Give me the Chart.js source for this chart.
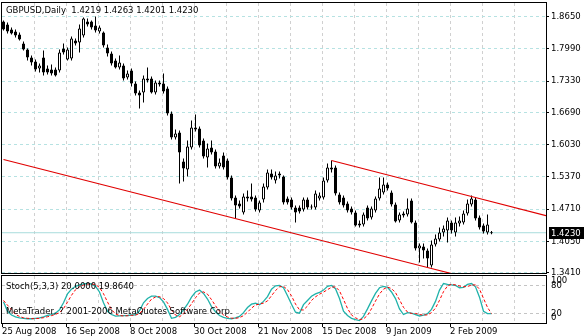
<!DOCTYPE html>
<html>
<head>
<meta charset="utf-8">
<script src="https://cdn.jsdelivr.net/npm/chart.js@4.4.1/dist/chart.umd.min.js"></script>
<style>
  html, body { margin: 0; padding: 0; background: #fff; }
  #wrap { position: relative; width: 584px; height: 336px; overflow: hidden; background: #fff; }
  #main { position: absolute; left: 0; top: 0; }
  #osc { position: absolute; left: 0; top: 275px; }
</style>
</head>
<body>
<div id="wrap">
  <canvas id="main" width="584" height="275"></canvas>
  <canvas id="osc" width="584" height="61"></canvas>
</div>
<script>
// ---- GBPUSD daily bars, 25 Aug 2008 onwards ----
const symbol = 'GBPUSD';
const timeframe = 'Daily';

const opens = [
  1.8548,1.8486,1.8384,1.8343,1.8282,1.8098,1.7975,1.7812,1.7730,1.7587,
  1.7812,1.7587,1.7567,1.7567,1.7546,1.7996,1.7771,1.7792,1.8159,1.8119,
  1.8262,1.8548,1.8548,1.8466,1.8343,1.8323,1.8016,1.7894,1.7751,1.7608,
  1.7649,1.7403,1.7546,1.7281,1.7097,1.7097,1.7342,1.7383,1.7097,1.7301,
  1.7281,1.7179,1.6667,1.6177,1.6279,1.5686,1.5523,1.5972,1.6381,1.6361,
  1.6115,1.5768,1.5972,1.5891,1.5584,1.5809,1.5707,1.5359,1.4950,1.4828,
  1.4644,1.4930,1.4971,1.4950,1.4685,1.4909,1.5155,1.5441,1.5298,1.5400,
  1.5380,1.4930,1.4909,1.4746,1.4746,1.4705,1.4909,1.4766,1.4746,1.4930,
  1.4950,1.5298,1.5563,1.5563,1.5012,1.4950,1.4828,1.4725,1.4644,1.4419,
  1.4399,1.4746,1.4542,1.4685,1.4930,1.5053,1.5216,1.5053,1.4807,1.4480,
  1.4623,1.4603,1.4889,1.4439,1.3908,1.3949,1.3867,1.3561,1.3990,1.4092,
  1.4235,1.4276,1.4439,1.4235,1.4419,1.4439,1.4623,1.4807,1.4909,1.4542,
  1.4378,1.4235,1.4219
];
const highs = [
  1.8568,1.8527,1.8425,1.8384,1.8323,1.8139,1.7996,1.7853,1.7771,1.7689,
  1.7955,1.7649,1.7669,1.7608,1.7975,1.8098,1.8016,1.8241,1.8200,1.8486,
  1.8630,1.8609,1.8568,1.8650,1.8466,1.8343,1.8078,1.7935,1.7792,1.7853,
  1.7689,1.7546,1.7587,1.7322,1.7138,1.7444,1.7608,1.7424,1.7342,1.7342,
  1.7485,1.7219,1.6708,1.6340,1.6320,1.5747,1.6115,1.6524,1.6647,1.6401,
  1.6156,1.6054,1.6115,1.5931,1.5747,1.5870,1.5747,1.5400,1.4991,1.4889,
  1.5032,1.5093,1.5237,1.4991,1.4889,1.5237,1.5523,1.5523,1.5482,1.5482,
  1.5400,1.4971,1.4950,1.4787,1.4787,1.4950,1.4950,1.4807,1.5093,1.5053,
  1.5359,1.5645,1.5707,1.5604,1.5053,1.4991,1.4869,1.4766,1.4685,1.4480,
  1.4644,1.4787,1.4766,1.4971,1.5359,1.5359,1.5257,1.5093,1.4848,1.4644,
  1.4664,1.4930,1.4930,1.4480,1.4010,1.4010,1.3908,1.4071,1.4194,1.4337,
  1.4378,1.4542,1.4480,1.4542,1.4562,1.4685,1.4909,1.4991,1.4950,1.4582,
  1.4419,1.4603,1.4263
];
const lows = [
  1.8364,1.8302,1.8282,1.8221,1.8159,1.7955,1.7751,1.7649,1.7526,1.7506,
  1.7444,1.7465,1.7444,1.7424,1.7506,1.7873,1.7751,1.7751,1.8057,1.7914,
  1.8221,1.8446,1.8384,1.8323,1.8302,1.8016,1.7832,1.7649,1.7587,1.7567,
  1.7342,1.7362,1.7219,1.7036,1.6770,1.6892,1.7301,1.7076,1.7056,1.7219,
  1.7076,1.6626,1.6136,1.6136,1.5237,1.5277,1.5380,1.5931,1.6299,1.5972,
  1.5747,1.5563,1.5829,1.5543,1.5543,1.5523,1.5318,1.4889,1.4521,1.4725,
  1.4603,1.4869,1.4869,1.4664,1.4644,1.4848,1.5114,1.5318,1.5237,1.5339,
  1.4807,1.4807,1.4705,1.4439,1.4623,1.4664,1.4705,1.4705,1.4705,1.4889,
  1.4909,1.5257,1.5461,1.4991,1.4807,1.4746,1.4644,1.4603,1.4358,1.4337,
  1.4358,1.4480,1.4501,1.4644,1.4889,1.5012,1.5093,1.4766,1.4439,1.4439,
  1.4542,1.4562,1.4419,1.3867,1.3622,1.3704,1.3520,1.3520,1.3949,1.4051,
  1.4153,1.4031,1.4214,1.4153,1.4358,1.4399,1.4582,1.4766,1.4480,1.4296,
  1.4214,1.4194,1.4201
];
const closes = [
  1.8384,1.8343,1.8302,1.8262,1.8180,1.7975,1.7812,1.7710,1.7567,1.7649,
  1.7506,1.7506,1.7485,1.7444,1.7914,1.7914,1.7975,1.8200,1.8098,1.8405,
  1.8609,1.8486,1.8425,1.8364,1.8425,1.8057,1.7894,1.7689,1.7608,1.7710,
  1.7383,1.7485,1.7281,1.7076,1.7036,1.7383,1.7383,1.7097,1.7301,1.7260,
  1.7117,1.6667,1.6177,1.6258,1.5870,1.5543,1.5993,1.6381,1.6340,1.6013,
  1.5788,1.5952,1.5870,1.5584,1.5666,1.5563,1.5359,1.4930,1.4787,1.4766,
  1.4971,1.4971,1.4909,1.4705,1.4848,1.5175,1.5461,1.5359,1.5400,1.5441,
  1.4848,1.4848,1.4746,1.4644,1.4664,1.4909,1.4746,1.4746,1.5032,1.4991,
  1.5298,1.5563,1.5523,1.5032,1.4848,1.4787,1.4685,1.4644,1.4378,1.4378,
  1.4603,1.4521,1.4725,1.4930,1.5134,1.5216,1.5134,1.4807,1.4460,1.4603,
  1.4582,1.4725,1.4439,1.3908,1.3969,1.3867,1.3704,1.3990,1.4112,1.4235,
  1.4317,1.4480,1.4276,1.4439,1.4480,1.4623,1.4828,1.4930,1.4521,1.4337,
  1.4255,1.4399,1.4230
];

// Stochastic(5,3,3): main line and signal line
const stochK = [
  45,25,17,13,11,10,9,9,10,11,
  13,16,18,21,28,43,62,72,78,81,
  83,84,83,78,66,43,25,18,14.5,15,
  15.5,16,17,17.5,26,43,52,57,57,54,
  45,29,10,12,18,28,40,55,66,70,
  63,51,35,24,16,12,10,9,11,14,
  22,33,40,42,39,46,56,72,79,80,
  75,58,40,23,21,39,48,57,62,65,
  70,78,80,73,52,25,16,10,7,5,
  14,30,47,63,75,78,76,66,52,30,
  18,22,21,18,15,17,20,29,46,70,
  84,82,81,80,75,76,82,84,77,55,
  25,20,20
];
const stochD = [
  48,38,29,18,14,11,10,9.3,9.3,10,
  11.3,13.3,15.7,18.3,22.3,30.7,44.3,59,70.7,77,
  80.7,82.7,83.3,81.7,75.7,62.3,44.7,28.7,19.2,15.8,
  15,15.5,16.2,16.8,20.2,28.8,40.3,50.7,55.3,56,
  52,42.7,28,17,13.3,19.3,28.7,41,53.7,63.7,
  66.3,61.3,49.7,36.7,25,17.3,12.7,10.3,10,11.3,
  15.7,23,31.7,38.3,40.3,42.3,47,58,69,77,
  78,71,57.7,40.3,28,27.7,36,48,55.7,61.3,
  65.7,71,76,77,68.3,50,31,17,11,7.3,
  8.7,16.3,30.3,46.7,61.7,72,76.3,73.3,64.7,49.3,
  33.3,23.3,20.3,20.3,18,16.7,17.3,22,31.7,48.3,
  66.7,78.7,82.3,81,78.7,77,77.7,80.7,81,72,
  52.3,33.3,19.864
];

// Price axis labels and oscillator levels
const priceTicks = [1.3410, 1.4050, 1.4710, 1.5370, 1.6030, 1.6690, 1.7330, 1.7990, 1.8650];
const stochLevels = [0, 20, 80, 100];
const stochGridLevels = [20, 80];

// Date labels, one every 16 bars
const dateLabels = ['25 Aug 2008', '16 Sep 2008', '8 Oct 2008', '30 Oct 2008',
                    '21 Nov 2008', '15 Dec 2008', '9 Jan 2009', '2 Feb 2009'];

// Trend channel anchors (bar index, price); both lines extend to the right
const lowerLineBars = [0, 106];
const lowerLinePrices = [1.5727, 1.3520];
const upperLineBars = [82, 117];
const upperLinePrices = [1.5707, 1.4970];

// ---- layout ----
const FONT = '"DejaVu Sans", Verdana, sans-serif';
const FSIZE = 8.5;
const xMin = -0.375, xMax = 135.625;     // 4 px per bar
const yMin = 1.3407, yMax = 1.8926;
const BARS_PER_GRID = 8;
const gridValues = [];
for (let v = xMin; v < xMax - 1; v += BARS_PER_GRID) gridValues.push(v);

const N = closes.length;
const last = N - 1;
const lastClose = closes[last];

function ray(bars, prices) {
  const slope = (prices[1] - prices[0]) / (bars[1] - bars[0]);
  return [
    { x: bars[0], y: prices[0] },
    { x: bars[1], y: prices[1] },
    { x: xMax, y: prices[0] + slope * (xMax - bars[0]) }
  ];
}

const wickData = closes.map((c, i) => ({ x: i, y: [lows[i], highs[i]] }));
const bodyData = closes.map((c, i) => ({ x: i, y: [Math.min(opens[i], c), Math.max(opens[i], c)] }));
const bodyColors = closes.map((c, i) => (c >= opens[i] ? '#ffffff' : '#000000'));

const framePlugin = {
  id: 'frame',
  afterDraw(chart) {
    const a = chart.chartArea, ctx = chart.ctx;
    ctx.save();
    ctx.strokeStyle = '#000';
    ctx.lineWidth = 1;
    ctx.strokeRect(Math.round(a.left) - 0.5, Math.round(a.top) - 0.5,
                   Math.round(a.right - a.left) + 1, Math.round(a.bottom - a.top) + 1);
    ctx.restore();
  }
};

const mainTextPlugin = {
  id: 'mainText',
  afterDraw(chart) {
    const ctx = chart.ctx;
    ctx.save();
    ctx.font = FSIZE + 'px ' + FONT;
    ctx.textBaseline = 'middle';
    ctx.textAlign = 'left';
    ctx.fillStyle = '#000';
    const title = symbol + ',' + timeframe + '  ' +
      [opens[last], highs[last], lows[last], closes[last]].map(v => v.toFixed(4)).join(' ');
    ctx.fillText(title, 6, 11);
    // current price marker on the price axis
    const y = Math.round(chart.scales.y.getPixelForValue(lastClose));
    ctx.fillStyle = '#000';
    ctx.fillRect(549, y - 6, 35, 12);
    ctx.fillStyle = '#fff';
    ctx.fillText(lastClose.toFixed(4), 551, y + 0.5);
    ctx.restore();
  }
};

new Chart(document.getElementById('main'), {
  type: 'bar',
  data: {
    datasets: [
      { type: 'line', data: [{ x: xMin, y: lastClose }, { x: xMax, y: lastClose }],
        borderColor: '#a8dcdc', borderWidth: 1, pointRadius: 0, order: 6 },
      { type: 'line', data: ray(lowerLineBars, lowerLinePrices),
        borderColor: '#e00000', borderWidth: 1.2, pointRadius: 0, order: 0 },
      { type: 'line', data: ray(upperLineBars, upperLinePrices),
        borderColor: '#e00000', borderWidth: 1.2, pointRadius: 0, order: 0 },
      { type: 'bar', data: wickData, barThickness: 1, backgroundColor: '#000',
        grouped: false, inflateAmount: 0, borderWidth: 0, order: 2 },
      { type: 'bar', data: bodyData, barThickness: 3, backgroundColor: bodyColors,
        borderColor: '#000', borderWidth: 1, borderSkipped: false, minBarLength: 1,
        grouped: false, inflateAmount: 0, order: 1 }
    ]
  },
  options: {
    responsive: false,
    animation: false,
    events: [],
    layout: { autoPadding: false, padding: { left: 2, top: 3, right: 0, bottom: 2 } },
    plugins: { legend: { display: false }, tooltip: { enabled: false } },
    scales: {
      x: {
        type: 'linear', min: xMin, max: xMax, offset: false,
        grid: { offset: false, drawTicks: false,
                color: ctx => (ctx.index === 0 ? 'rgba(0,0,0,0)' : '#d0d0d0') },
        border: { display: false, dash: [3, 3] },
        ticks: { display: false },
        afterBuildTicks: s => { s.ticks = gridValues.map(v => ({ value: v })); },
        afterFit: s => { s.height = 0; s.paddingLeft = 0; s.paddingRight = 0; }
      },
      y: {
        type: 'linear', position: 'right', min: yMin, max: yMax,
        grid: { color: '#b6e2e2', tickLength: 3, tickColor: '#000', tickBorderDash: [] },
        border: { display: false, dash: [3, 3] },
        ticks: { font: { family: FONT, size: FSIZE }, color: '#000', padding: 2,
                 callback: v => Number(v).toFixed(4) },
        afterBuildTicks: s => { s.ticks = priceTicks.map(v => ({ value: v })); },
        afterFit: s => { s.width = 38; s.paddingTop = 0; s.paddingBottom = 0; }
      }
    }
  },
  plugins: [framePlugin, mainTextPlugin]
});

const oscTextPlugin = {
  id: 'oscText',
  afterDraw(chart) {
    const ctx = chart.ctx, a = chart.chartArea, ys = chart.scales.y;
    ctx.save();
    ctx.font = FSIZE + 'px ' + FONT;
    ctx.textBaseline = 'middle';
    ctx.textAlign = 'left';
    ctx.fillStyle = '#000';
    ctx.fillText('Stoch(5,3,3) ' + stochK[last].toFixed(4) + ' ' + stochD[last].toFixed(4), 6, 12);
    ctx.fillText('MetaTrader, ? 2001-2006 MetaQuotes Software Corp.', 6, 37);
    stochLevels.forEach(v => {
      const y = Math.min(Math.max(ys.getPixelForValue(v), a.top + 5), a.bottom - 5);
      ctx.fillText(String(v), 551, y);
    });
    ctx.restore();
  }
};

new Chart(document.getElementById('osc'), {
  type: 'line',
  data: {
    datasets: [
      { data: stochD.map((v, i) => ({ x: i, y: v })), borderColor: '#ff0000',
        borderDash: [3, 2], borderWidth: 1, pointRadius: 0, tension: 0 },
      { data: stochK.map((v, i) => ({ x: i, y: v })), borderColor: '#20b2aa',
        borderWidth: 1.3, pointRadius: 0, tension: 0 }
    ]
  },
  options: {
    responsive: false,
    animation: false,
    events: [],
    layout: { autoPadding: false, padding: { left: 2, top: 1, right: 0, bottom: 0 } },
    plugins: { legend: { display: false }, tooltip: { enabled: false } },
    scales: {
      x: {
        type: 'linear', min: xMin, max: xMax, offset: false,
        grid: {
          color: ctx => (ctx.index === 0 ? 'rgba(0,0,0,0)' : '#d0d0d0'),
          tickLength: 4, tickBorderDash: [],
          tickColor: ctx => (ctx.index % 2 === 0 && ctx.index / 2 < dateLabels.length ? '#000' : 'rgba(0,0,0,0)')
        },
        border: { display: false, dash: [3, 3] },
        ticks: {
          font: { family: FONT, size: FSIZE }, color: '#000', align: 'start',
          padding: 0, maxRotation: 0, minRotation: 0, autoSkip: false,
          callback: (v, i) => (i % 2 === 0 ? (dateLabels[i / 2] || '') : '')
        },
        afterBuildTicks: s => { s.ticks = gridValues.map(v => ({ value: v })); },
        afterFit: s => { s.height = 13; s.paddingLeft = 0; s.paddingRight = 0; }
      },
      y: {
        type: 'linear', position: 'right', min: 0, max: 100,
        grid: { color: '#c4c4c4', drawTicks: false },
        border: { display: false, dash: [3, 3] },
        ticks: { display: false },
        afterBuildTicks: s => { s.ticks = stochGridLevels.map(v => ({ value: v })); },
        afterFit: s => { s.width = 38; s.paddingTop = 0; s.paddingBottom = 0; }
      }
    }
  },
  plugins: [framePlugin, oscTextPlugin]
});
</script>
</body>
</html>
